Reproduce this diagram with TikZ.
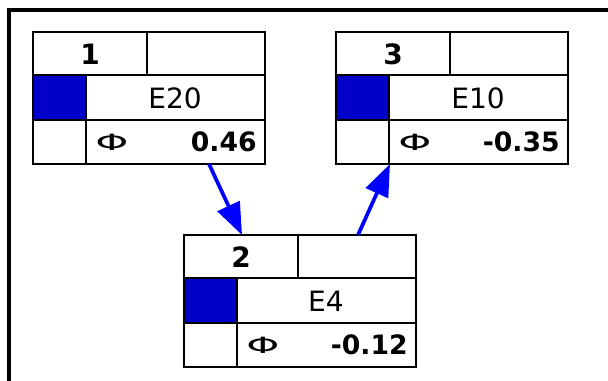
\documentclass[tikz,border=0pt]{standalone}
\usepackage{fontspec}
\setmainfont{DejaVu Sans}
\usepackage{tikz}
\usetikzlibrary{arrows.meta}
\usepackage{xcolor}
\definecolor{cellblue}{RGB}{0,0,200}
\definecolor{linkblue}{RGB}{0,0,255}

\tikzset{
  pbox/.style={draw, line width=1.4pt, minimum width=174pt, minimum height=99pt, inner sep=0pt, outer sep=0pt},
  grid/.style={line width=1.4pt},
  numtxt/.style={font=\fontsize{21}{21}\selectfont\bfseries, inner sep=0pt},
  lbltxt/.style={font=\fontsize{21}{21}\selectfont, inner sep=0pt},
  phitxt/.style={font=\fontsize{21}{21}\selectfont, inner sep=0pt},
  valtxt/.style={font=\fontsize{20}{20}\selectfont\bfseries, inner sep=0pt, anchor=east},
  link/.style={line width=2.8pt, linkblue, -{Triangle[length=24pt,width=18pt]}}
}

% one potential box: name, left, top, number, label, value
\newcommand{\potbox}[6]{%
  \begin{scope}[shift={(#2,#3)}]
    \fill[cellblue] (0,43) rectangle (53,88);
    \node[pbox] (#1) at (116,66) {};
    \draw[grid] (0,43) -- (232,43) (0,88) -- (232,88)
      (114,0) -- (114,43) (53,43) -- (53,132);
    \node[numtxt] (#1-num) at (57,22) {#4};
    \node[lbltxt] (#1-lbl) at (142,66) {#5};
    \node[phitxt] (#1-phi) at (79,110) {\scalebox{1.5}[0.8]{Φ}};
    \node[valtxt] (#1-val) at (224,110) {#6};
  \end{scope}}

\begin{document}
\begin{tikzpicture}[x=0.75pt,y=-0.75pt,>=stealth]
      \useasboundingbox (0,0) rectangle (608,381);
      \draw[line width=3.4pt] (9,381) -- (9,10) -- (608,10);
      \potbox{n1}{33}{32}{1}{E20}{0.46}
      \potbox{n3}{336}{32}{3}{E10}{-0.35}
      \potbox{n2}{184}{235}{2}{E4}{-0.12}
      \draw[link] ([xshift=45pt]n1.south) -- ([xshift=-43.5pt]n2.north);
      \draw[link] ([xshift=43.5pt]n2.north) -- ([xshift=-46.5pt]n3.south);
    \end{tikzpicture}
\end{document}
